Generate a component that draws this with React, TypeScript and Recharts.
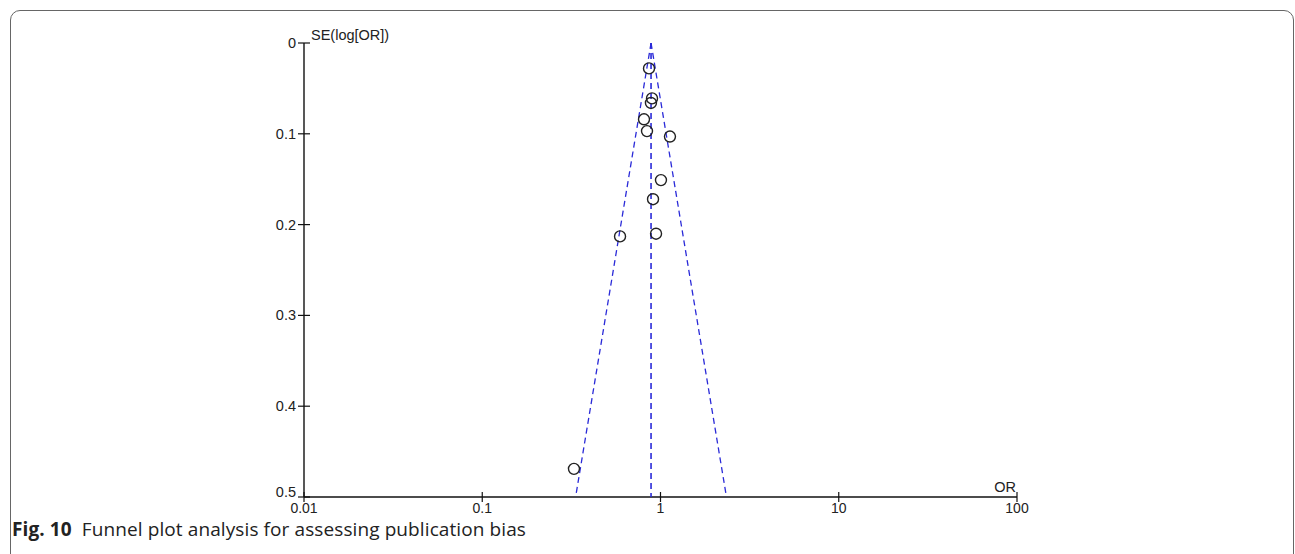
import { Scatter, ScatterChart, XAxis, YAxis } from "recharts";

// study estimates
const studyOR = [0.862, 0.896, 0.884, 0.808, 0.84, 1.13, 1.006, 0.908, 0.593, 0.944, 0.327];
const studySE = [0.028, 0.061, 0.066, 0.084, 0.097, 0.103, 0.151, 0.172, 0.213, 0.21, 0.469];

// pooled estimate and 95% pseudo-confidence limits
const pooledOR = [0.885, 0.885];
const leftLimitOR = [0.885, 0.334];
const rightLimitOR = [0.885, 2.345];
const limitSE = [0, 0.5];

const xTicks = [0.01, 0.1, 1, 10, 100];
const yTicks = [0, 0.1, 0.2, 0.3, 0.4, 0.5];

const studies = studyOR.map((or, i) => ({ or, se: studySE[i] }));
const toLine = (ors: number[]) => ors.map((or, i) => ({ or, se: limitSE[i] }));

const FONT = "'Liberation Sans', Arial, sans-serif";
const FS = 14.5;
const BLUE = "#2a2ad8";
const dash = { stroke: BLUE, strokeWidth: 1.3, strokeDasharray: "6 4" };

const YTick = ({ x, y, payload }: any) => (
  <g>
    <line x1={x - 6} x2={x + 6} y1={y} y2={y} stroke="#111" strokeWidth={1.2} />
    {/* the bottom label sits a little above its tick, clear of the 0.01 label */}
    <text
      x={x - 8}
      y={payload.value === 0.5 ? y - 5.5 : y}
      dy="0.35em"
      textAnchor="end"
      fontSize={FS}
      fill="#222"
      fontFamily={FONT}
    >
      {String(payload.value)}
    </text>
  </g>
);

const XTick = ({ x, y, payload }: any) => (
  <g>
    <line x1={x} x2={x} y1={y - 5} y2={y + 5} stroke="#111" strokeWidth={1.2} />
    <text x={x} y={y + 11} dy="0.35em" textAnchor="middle" fontSize={14} fill="#222" fontFamily={FONT}>
      {String(payload.value)}
    </text>
  </g>
);

const Ring = ({ cx, cy }: any) => (
  <circle cx={cx} cy={cy} r={5.5} fill="none" stroke="#222" strokeWidth={1.4} />
);
const NoDot = () => <g />;

export default function App() {
  return (
    <div style={{ position: "relative", width: 1295, height: 554, overflow: "hidden", background: "#fff" }}>
      <style>{"body{margin:0}"}</style>
      <div
        style={{
          position: "absolute",
          left: 10,
          top: 10,
          width: 1284,
          height: 600,
          border: "1.5px solid #666",
          borderRadius: 10,
          boxSizing: "border-box",
        }}
      />
      <div style={{ position: "absolute", left: 0, top: 0 }}>
        <ScatterChart width={1295} height={554} margin={{ top: 43, right: 278, bottom: 0, left: 0 }}>
          <XAxis
            type="number"
            dataKey="or"
            scale="log"
            domain={[0.01, 100]}
            ticks={xTicks}
            allowDataOverflow
            height={57}
            tickSize={0}
            tickMargin={0}
            tickLine={false}
            axisLine={{ stroke: "#111", strokeWidth: 1.4 }}
            tick={<XTick />}
            interval={0}
            label={{
              value: "OR",
              content: ({ viewBox }: any) => (
                <text
                  x={viewBox.x + viewBox.width - 12}
                  y={viewBox.y - 5}
                  textAnchor="middle"
                  fontSize={FS}
                  fill="#222"
                  fontFamily={FONT}
                >
                  OR
                </text>
              ),
            }}
          />
          <YAxis
            type="number"
            dataKey="se"
            reversed
            domain={[0, 0.5]}
            ticks={yTicks}
            width={304}
            tickSize={0}
            tickMargin={0}
            tickLine={false}
            axisLine={{ stroke: "#111", strokeWidth: 1.4 }}
            tick={<YTick />}
            interval={0}
            label={{
              value: "SE(log[OR])",
              content: ({ viewBox }: any) => (
                <text
                  x={viewBox.x + viewBox.width + 7}
                  y={viewBox.y - 3}
                  fontSize={FS}
                  fill="#222"
                  fontFamily={FONT}
                >
                  SE(log[OR])
                </text>
              ),
            }}
          />
          <Scatter data={toLine(leftLimitOR)} line={dash} shape={<NoDot />} isAnimationActive={false} />
          <Scatter data={toLine(rightLimitOR)} line={dash} shape={<NoDot />} isAnimationActive={false} />
          <Scatter
            data={toLine(pooledOR)}
            line={{ ...dash, strokeWidth: 1.6 }}
            shape={<NoDot />}
            isAnimationActive={false}
          />
          <Scatter data={studies} shape={<Ring />} isAnimationActive={false} />
        </ScatterChart>
      </div>
      <div
        style={{
          position: "absolute",
          left: 12,
          top: 521,
          fontFamily: "'Open Sans', 'Noto Sans', sans-serif",
          fontSize: 19,
          lineHeight: "16px",
          letterSpacing: 0.1,
          color: "#222",
          whiteSpace: "pre",
        }}
      >
        <b>Fig. 10</b>
        {"  Funnel plot analysis for assessing publication bias"}
      </div>
    </div>
  );
}
